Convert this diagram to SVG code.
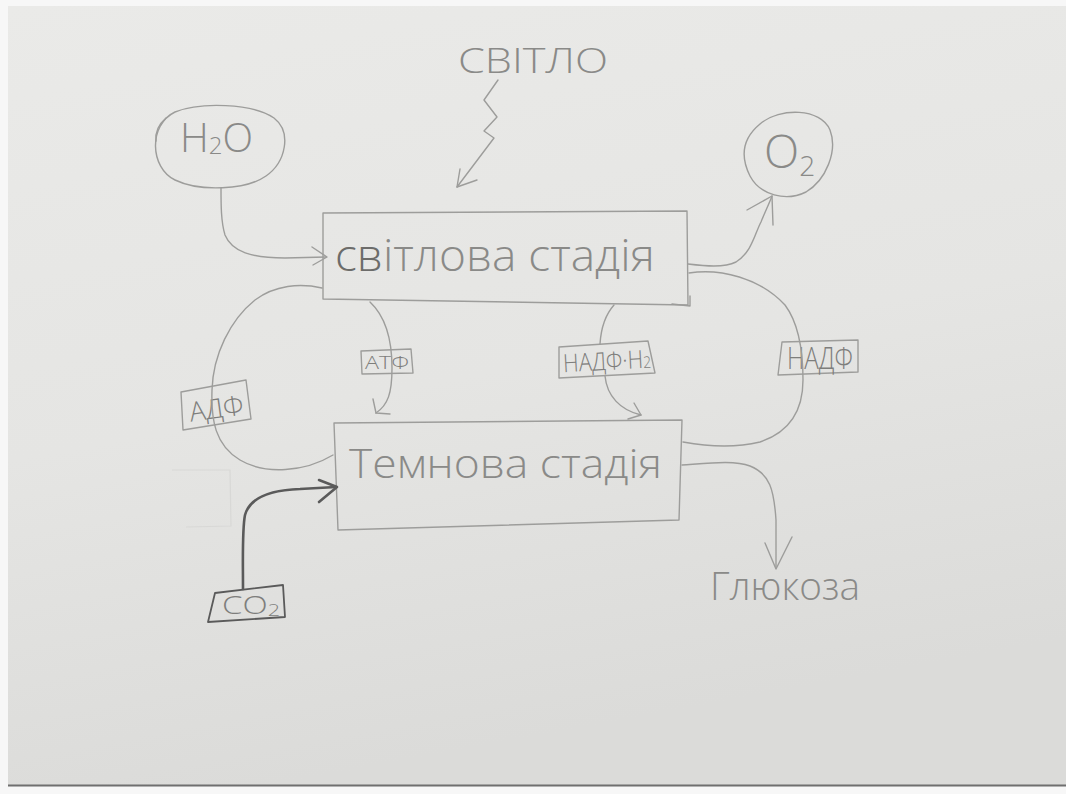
<svg xmlns="http://www.w3.org/2000/svg" width="1066" height="794" viewBox="0 0 1066 794">
  <defs>
    <linearGradient id="paper" x1="0" y1="0" x2="0.25" y2="1">
      <stop offset="0" stop-color="#eaeae8"/>
      <stop offset="0.55" stop-color="#e5e5e3"/>
      <stop offset="1" stop-color="#dbdbd9"/>
    </linearGradient>
    <style>
      .pencil { fill: none; stroke: #9d9d9b; stroke-width: 1.4; stroke-linecap: round; stroke-linejoin: round; }
      .faint  { fill: none; stroke: #d8d8d6; stroke-width: 1.2; }
      .dark   { fill: none; stroke: #5a5a5a; stroke-width: 2.6; stroke-linecap: round; stroke-linejoin: round; }
      .hand   { font-family: "Open Sans", "Liberation Sans", "DejaVu Sans", sans-serif; font-weight: 300; fill: #8a8a88; }
      .label  { font-family: "Open Sans", "Liberation Sans", "DejaVu Sans", sans-serif; font-weight: 300; fill: #7e7e7c; }
    </style>
  </defs>

  <!-- sheet of paper -->
  <rect x="0" y="0" width="1066" height="794" fill="#f7f7f7"/>
  <rect x="8" y="6" width="1058" height="779" fill="url(#paper)"/>
  <line x1="8" y1="785.5" x2="1066" y2="785.5" stroke="#6f6f6f" stroke-width="2"/>

  <!-- erased marks -->
  <path class="faint" d="M172,470 L230,470 L231,526 L186,527"/>

  <!-- light source -->
  <g id="light">
    <text class="hand" x="458" y="73" font-size="35" textLength="150" lengthAdjust="spacingAndGlyphs" fill="#a2a2a0">СВІТЛО</text>
  </g>

  <!-- water -->
  <g id="h2o">
    <path class="pencil" d="M175,112 C200,102 252,103 274,118 C292,132 286,162 266,176 C246,190 200,192 175,180 C150,168 148,125 175,112 Z"/>
    <path class="pencil" d="M166,118 C159,124 155,132 156,141"/>
    <text class="hand" x="180" y="152" font-size="40">H<tspan font-size="24" dy="2">2</tspan><tspan dy="-2">O</tspan></text>
  </g>

  <!-- oxygen -->
  <g id="o2">
    <path class="pencil" d="M760,124 C780,107 821,108 830,130 C838,151 826,180 806,192 C786,202 760,195 750,176 C740,156 743,138 760,124 Z"/>
    <text class="hand" x="764" y="168" font-size="46">O<tspan font-size="28" dy="8">2</tspan></text>
  </g>

  <!-- light-dependent stage -->
  <g id="light-stage">
    <path class="pencil" d="M323,213 L687,211 L688,305 L323,299 Z"/>
    <path class="pencil" d="M672,304 L690,306 L690,296"/>
    <text class="hand" x="335" y="271" font-size="44" textLength="320" lengthAdjust="spacingAndGlyphs"><tspan fill="#6c6c6a">св</tspan>ітлова стадія</text>
  </g>

  <!-- light-independent stage -->
  <g id="dark-stage">
    <path class="pencil" d="M334,423 L682,420 L679,520 L338,530 Z"/>
    <text class="hand" x="349" y="478" font-size="40" textLength="313" lengthAdjust="spacingAndGlyphs">Темнова стадія</text>
  </g>

  <!-- carriers -->
  <g id="adp">
    <path class="pencil" d="M181,392 L246,380 L251,419 L183,430 Z"/>
    <text class="label" x="216" y="418" font-size="27" text-anchor="middle" transform="rotate(-8 216 406)">АДФ</text>
  </g>
  <g id="atp">
    <path class="pencil" d="M361,351 L411,349 L413,373 L362,374 Z"/>
    <text class="label" x="387" y="369" font-size="18" text-anchor="middle" textLength="44" lengthAdjust="spacingAndGlyphs">АТФ</text>
  </g>
  <g id="nadph">
    <path class="pencil" d="M559,347 L648,341 L655,373 L559,378 Z"/>
    <text class="label" x="563" y="370" font-size="25" textLength="88" lengthAdjust="spacingAndGlyphs" transform="rotate(-3 605 360)">НАДФ·Н<tspan font-size="16">2</tspan></text>
  </g>
  <g id="nadp">
    <path class="pencil" d="M782,342 L858,340 L858,372 L778,375 Z"/>
    <text class="label" x="787" y="369" font-size="31" textLength="66" lengthAdjust="spacingAndGlyphs">НАДФ</text>
  </g>
  <g id="co2">
    <path class="dark" style="stroke-width:1.8" d="M215,593 L283,585 L285,617 L208,622 Z"/>
    <text class="label" x="222" y="614" font-size="26" fill="#555555" textLength="58" lengthAdjust="spacingAndGlyphs">CO<tspan font-size="17" dy="2">2</tspan></text>
  </g>

  <!-- product -->
  <g id="glucose">
    <text class="hand" x="710" y="600" font-size="38" textLength="150" lengthAdjust="spacingAndGlyphs" fill="#7c7c7a">Глюкоза</text>
  </g>

  <!-- connectors -->
  <g id="connectors">
    <!-- lightning into the light stage -->
    <path class="pencil" d="M498,80 L484,100 L497,117 L484,131 L494,138 L457,187"/>
    <path class="pencil" d="M460,169 L457,187 L477,180"/>

    <!-- water into the light stage -->
    <path class="pencil" d="M221,188 C221,205 221,222 225,235 C232,252 252,258 285,258 L326,257"/>
    <path class="pencil" d="M312,247 L327,257 L313,265"/>

    <!-- oxygen out -->
    <path class="pencil" d="M688,264 C705,266 724,268 736,262 C752,252 755,233 761,222 C765,212 769,204 772,196"/>
    <path class="pencil" d="M747,210 L772,196 L773,225"/>

    <!-- ADP loop back to the light stage -->
    <path class="pencil" d="M322,288 C300,283 275,285 255,300 C230,320 213,355 212,390 C211,420 215,445 240,460 C265,475 305,472 333,455"/>

    <!-- ATP to the dark stage -->
    <path class="pencil" d="M370,302 C385,316 392,340 392,368 C392,393 388,405 376,413"/>
    <path class="pencil" d="M373,399 L376,413 L390,414"/>

    <!-- NADPH2 to the dark stage -->
    <path class="pencil" d="M614,305 C606,314 601,328 600,344"/>
    <path class="pencil" d="M605,376 C607,396 620,410 641,415"/>
    <path class="pencil" d="M634,403 L641,415 L628,419"/>

    <!-- NADP loop back to the light stage -->
    <path class="pencil" d="M689,273 C720,268 760,278 785,305 C800,325 803,355 803,380 C803,410 790,432 760,442 C735,448 705,446 683,442"/>

    <!-- CO2 into the dark stage -->
    <path class="dark" d="M243,589 C243,560 242,530 245,515 C250,497 270,490 300,489 L336,487"/>
    <path class="dark" d="M319,480 L337,487 L319,502"/>

    <!-- glucose out -->
    <path class="pencil" d="M682,465 C710,463 735,460 750,466 C770,474 774,490 776,520 L776,568"/>
    <path class="pencil" d="M765,543 L776,569 L792,537"/>
  </g>
</svg>
